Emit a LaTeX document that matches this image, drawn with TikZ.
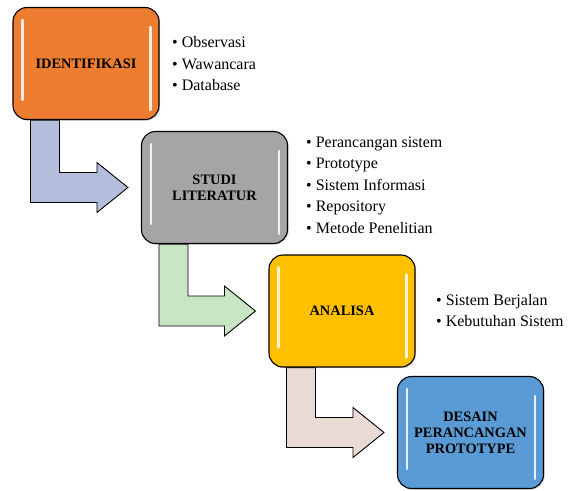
\documentclass[tikz,border=0pt]{standalone}
\usepackage{fontspec}
\setmainfont{Liberation Serif}
\usetikzlibrary{calc,positioning,backgrounds,shadows}
\definecolor{idfOrange}{HTML}{ED7D31}
\definecolor{stdGray}{HTML}{A5A5A5}
\definecolor{anaGold}{HTML}{FFC000}
\definecolor{dsnBlue}{HTML}{5B9BD5}
\definecolor{arrLav}{HTML}{B4BEDC}
\definecolor{arrMint}{HTML}{C8E6C3}
\definecolor{arrRose}{HTML}{EADAD6}
\begin{document}
\begin{tikzpicture}[x=1pt, y=-1pt,
  stp/.style={draw, line width=1.1pt, rounded corners=14pt, minimum width=146pt, minimum height=112pt, align=center,
    font=\fontsize{14.4}{16}\selectfont\bfseries, drop shadow={opacity=0.35, shadow xshift=1.2pt, shadow yshift=-1.2pt}},
  lst/.style={anchor=west, align=left, inner sep=0pt, font=\fontsize{16}{21.5}\selectfont},
  blk/.style={draw, line width=0.9pt, line join=miter},
  glint/.style={white, line width=2.4pt, line cap=round, opacity=0.85}]
\useasboundingbox (0,0) rectangle (575,490);
\foreach \i/\px/\py/\col/\txt in {1/86/63.5/idfOrange/IDENTIFIKASI, 2/214.5/187.5/stdGray/{STUDI\\LITERATUR},
  3/342/311/anaGold/ANALISA, 4/470.5/432.5/dsnBlue/{DESAIN\\PERANCANGAN\\PROTOTYPE}}{
  \node[stp, fill=\col] (s\i) at (\px,\py) {\txt};
  \draw[glint] ($(s\i.north west)+(10,13)$) -- ($(s\i.north west)+(10,93)$);
  \draw[glint] ($(s\i.north east)+(-9,20)$) -- ($(s\i.north east)+(-9,103)$);
}
\foreach \i/\px/\py/\items in {1/172/64/{\textbullet\ Observasi\\\textbullet\ Wawancara\\\textbullet\ Database},
  2/306/185/{\textbullet\ Perancangan sistem\\\textbullet\ Prototype\\\textbullet\ Sistem Informasi\\\textbullet\ Repository\\\textbullet\ Metode Penelitian},
  3/436/310.5/{\textbullet\ Sistem Berjalan\\\textbullet\ Kebutuhan Sistem}}{
  \node[lst] (l\i) at (\px,\py) {\items};
}
\begin{scope}[on background layer]
\foreach \i/\j/\col in {1/2/arrLav, 2/3/arrMint, 3/4/arrRose}{
  \draw[blk, fill=\col] let \p1 = (s\i.south west), \p2 = (s\j.west) in
    (\x1+18pt,\y1) -- (\x1+18pt,\y2-15pt) -- (\x2-44pt,\y2-15pt) -- (\x2-44pt,\y2-25pt) -- (\x2-13pt,\y2)
    -- (\x2-44pt,\y2+25pt) -- (\x2-44pt,\y2+15pt) -- (\x1+47pt,\y2+15pt) -- (\x1+47pt,\y1) -- cycle;
}
\end{scope}
\end{tikzpicture}
\end{document}
